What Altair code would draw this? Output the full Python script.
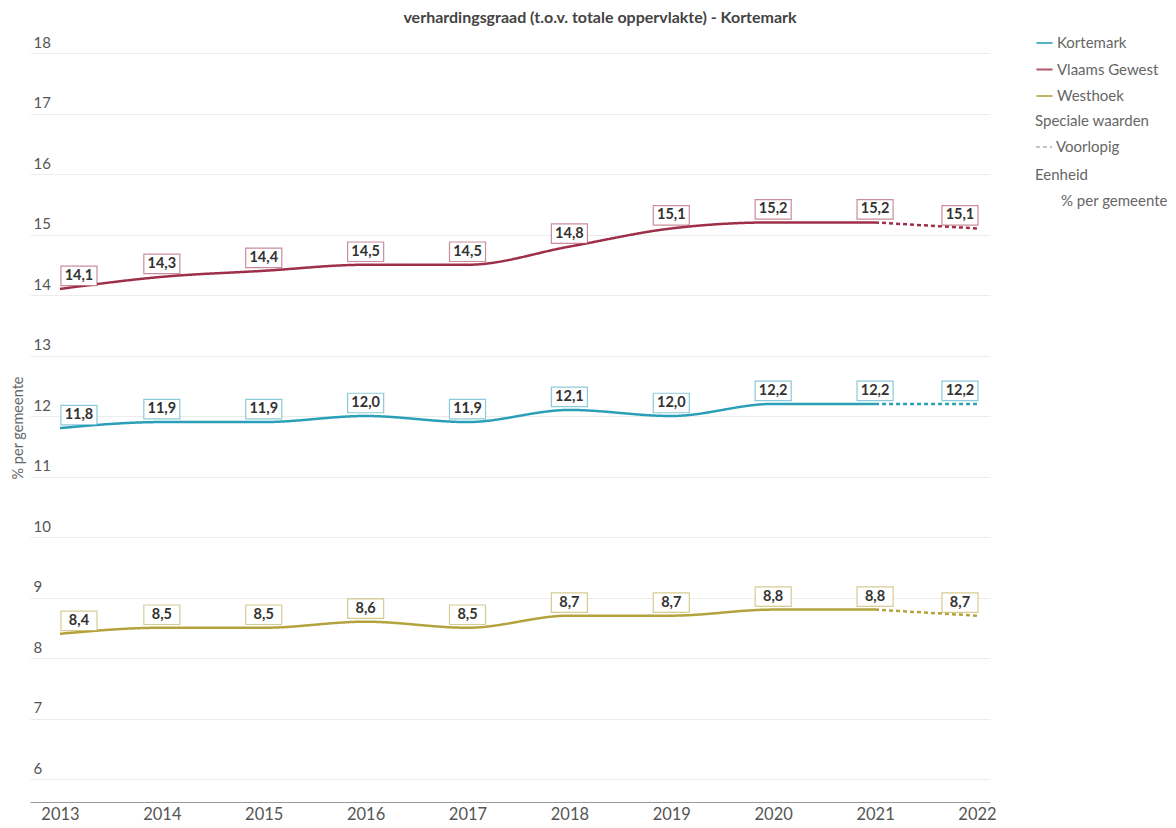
import altair as alt
import pandas as pd

years = [2013, 2014, 2015, 2016, 2017, 2018, 2019, 2020, 2021, 2022]
series_names = ["Kortemark", "Vlaams Gewest", "Westhoek"]
kortemark = [11.8, 11.9, 11.9, 12.0, 11.9, 12.1, 12.0, 12.2, 12.2, 12.2]
vlaams = [14.1, 14.3, 14.4, 14.5, 14.5, 14.8, 15.1, 15.2, 15.2, 15.1]
westhoek = [8.4, 8.5, 8.5, 8.6, 8.5, 8.7, 8.7, 8.8, 8.8, 8.7]
provisional_years = [2022]
colors = ["#2b9fb8", "#9e2f48", "#b4a23c"]
title_text = "verhardingsgraad (t.o.v. totale oppervlakte) - Kortemark"
unit_label = "% per gemeente"

FONT = "Lato"

values = {"Kortemark": kortemark, "Vlaams Gewest": vlaams, "Westhoek": westhoek}

line_rows = []
point_rows = []
last_def = max(y for y in years if y not in provisional_years)
for s in series_names:
    for y, v in zip(years, values[s]):
        point_rows.append({"serie": s, "jaar": y, "waarde": v,
                           "label": f"{v:.1f}".replace(".", ",")})
        if y <= last_def:
            line_rows.append({"serie": s, "jaar": y, "waarde": v, "status": "Definitief"})
        if y >= last_def:
            line_rows.append({"serie": s, "jaar": y, "waarde": v, "status": "Voorlopig"})

lines_df = pd.DataFrame(line_rows)
points_df = pd.DataFrame(point_rows)
unit_df = pd.DataFrame({"eenheid": [unit_label]})

first_year, final_year = years[0], years[-1]

x_scale = alt.Scale(domain=[2012.706, 2022.128], nice=False, zero=False)
y_scale = alt.Scale(domain=[5.62, 18], nice=False, zero=False)
color_scale = alt.Scale(domain=series_names, range=colors)

x_enc = alt.X("jaar:Q", scale=x_scale, title=None,
              axis=alt.Axis(values=years, format="d", grid=False, ticks=False,
                            domain=True, domainColor="#999", labelFontSize=16.5,
                            labelColor="#555", labelFont=FONT, labelPadding=4))
y_enc = alt.Y("waarde:Q", scale=y_scale, title="% per gemeente",
              axis=alt.Axis(values=list(range(6, 19)), format="d", grid=True,
                            gridColor="#ececec",
                            domain=False, ticks=False, tickSize=0,
                            labelAlign="left", labelBaseline="bottom",
                            labelPadding=-3, labelOffset=-3,
                            labelFontSize=15, labelColor="#555", labelFont=FONT,
                            titleFont=FONT, titleFontSize=14.5, titleFontWeight="normal",
                            titleColor="#666", titleX=-12, titleBaseline="middle"))

LEG_FS = 15

lines = alt.Chart(lines_df).mark_line(interpolate="monotone", strokeWidth=2.5).encode(
    x=x_enc,
    y=y_enc,
    color=alt.Color("serie:N", scale=color_scale,
                    legend=alt.Legend(title=None, orient="none", legendX=1005, legendY=-18,
                                      symbolType="stroke", symbolStrokeWidth=2,
                                      symbolSize=260, labelFontSize=LEG_FS, labelColor="#666",
                                      labelFont=FONT, labelOffset=3, clipHeight=16,
                                      rowPadding=10.5, symbolOpacity=0.8)),
    strokeDash=alt.StrokeDash("status:N",
                              scale=alt.Scale(domain=["Definitief", "Voorlopig"],
                                              range=[[1, 0], [4, 3]]),
                              legend=alt.Legend(title="Speciale waarden", values=["Voorlopig"],
                                                orient="none", legendX=1005, legendY=61,
                                                symbolType="stroke", symbolStrokeColor="#888",
                                                symbolStrokeWidth=1.2, symbolSize=260,
                                                titleFont=FONT, titleFontSize=LEG_FS,
                                                titleFontWeight="normal", titleColor="#666",
                                                titlePadding=10, labelFontSize=LEG_FS,
                                                labelColor="#666", labelFont=FONT,
                                                labelOffset=3, clipHeight=16)),
    detail="serie:N",
)

box_path = "M-1,-0.54L1,-0.54L1,0.54L-1,0.54Z"


def label_layers(flt, shift):
    base = alt.Chart(points_df).transform_filter(flt)
    boxes = base.mark_point(shape=box_path, size=1300, fill="white",
                            filled=False, opacity=1, strokeOpacity=0.55,
                            strokeWidth=1.2, yOffset=-13, xOffset=shift).encode(
        x=alt.X("jaar:Q", scale=x_scale),
        y=alt.Y("waarde:Q", scale=y_scale),
        color=alt.Color("serie:N", scale=color_scale, legend=None),
    )
    texts = base.mark_text(font=FONT, fontSize=14.5, fontWeight="bold",
                           color="#333", yOffset=-13, dx=shift, baseline="middle").encode(
        x=alt.X("jaar:Q", scale=x_scale),
        y=alt.Y("waarde:Q", scale=y_scale),
        text="label:N",
    )
    return [boxes, texts]


label_parts = (
    label_layers(alt.datum.jaar == first_year, 19)
    + label_layers((alt.datum.jaar > first_year) & (alt.datum.jaar < final_year), 0)
    + label_layers(alt.datum.jaar == final_year, -17)
)

unit = alt.Chart(unit_df).mark_point(opacity=0).encode(
    shape=alt.Shape("eenheid:N",
                    legend=alt.Legend(title="Eenheid", orient="none", legendX=1005, legendY=115,
                                      symbolOpacity=0, symbolSize=280, labelOffset=7,
                                      titleFont=FONT, titleFontSize=LEG_FS,
                                      titleFontWeight="normal", titleColor="#666",
                                      titlePadding=10, labelFontSize=LEG_FS,
                                      labelColor="#666", labelFont=FONT, clipHeight=16)),
)

chart = alt.layer(lines, *label_parts, unit).properties(
    width=960,
    height=749,
    autosize=alt.AutoSizeParams(type="none"),
    padding={"left": 22, "top": 45, "right": 178, "bottom": 26},
    title=alt.TitleParams(title_text, font=FONT, fontSize=16, fontWeight="bold",
                          color="#444", anchor="middle", dx=90, offset=9),
).configure(font=FONT).configure_view(strokeWidth=0, stroke="transparent")

chart.save("out.html", embed_options={"renderer": "svg", "actions": False})
